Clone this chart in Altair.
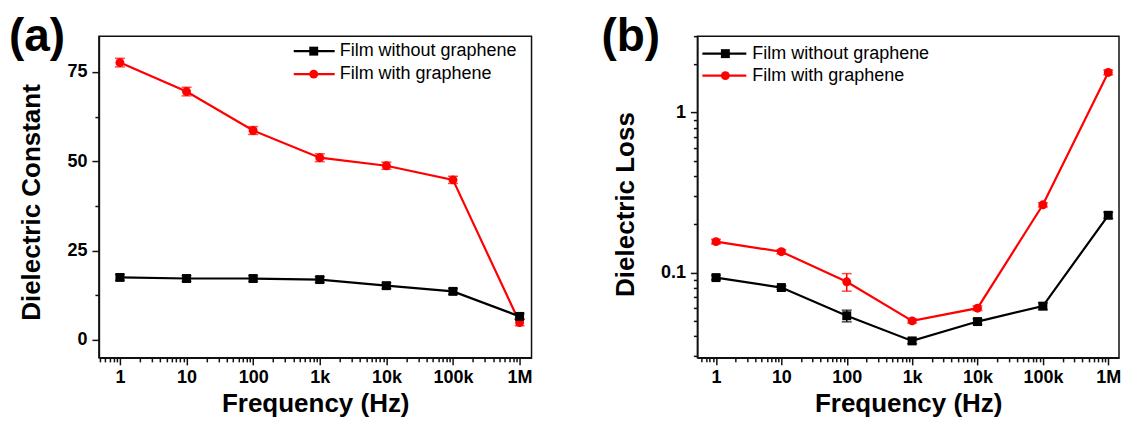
import altair as alt
import pandas as pd

# ---------------- data ----------------
freq = [1, 10, 100, 1000, 10000, 100000, 1000000]
series = ["Film without graphene", "Film with graphene"]

const_without = [17.5, 17.2, 17.2, 16.9, 15.2, 13.6, 6.6]
const_without_err = [0.8, 0.8, 0.8, 0.8, 0.8, 0.8, 0.8]
const_with = [77.6, 69.5, 58.6, 51.0, 48.75, 44.8, 4.9]
const_with_err = [1.2, 1.2, 1.1, 1.1, 1.0, 1.0, 0.9]

loss_without = [0.093, 0.0806, 0.0537, 0.0374, 0.0494, 0.0617, 0.228]
loss_without_err = [0.003, 0.002, 0.0045, 0.0015, 0.002, 0.003, 0.01]
loss_with = [0.156, 0.135, 0.0875, 0.0499, 0.0599, 0.265, 1.78]
loss_with_err = [0.005, 0.004, 0.011, 0.0015, 0.002, 0.008, 0.06]

x_ticks = [m * 10 ** k for k in range(-1, 7) for m in range(1, 10)]
y_ticks_a = [0, 12.5, 25, 37.5, 50, 62.5, 75]
y_ticks_b = [m * 10 ** k for k in range(-2, 1) for m in range(1, 10)]

FONT = "Liberation Sans"
H = 322
COLORS = ["#000000", "#ff0000"]
SHAPES = ["square", "circle"]


def make_df(v_wo, e_wo, v_w, e_w):
    rows = []
    # red drawn first, black on top
    for name, vals, errs in [(series[1], v_w, e_w), (series[0], v_wo, e_wo)]:
        for f, v, e in zip(freq, vals, errs):
            rows.append({"freq": f, "val": v, "lo": v - e, "hi": v + e, "series": name})
    return pd.DataFrame(rows)


LOGTEST = "abs(log(datum.value)/LN10 - round(log(datum.value)/LN10)) > 0.001"


def panel(df, width, xdomain, yscale, yaxis, label, label_dx, leg):
    x_vals = [v for v in x_ticks if xdomain[0] <= v <= xdomain[1]]
    x_axis = alt.Axis(
        values=x_vals, format="~s", labelExpr=f"({LOGTEST}) ? '' : datum.label",
        tickSize={"condition": {"test": LOGTEST, "value": 4}, "value": 7},
        labelPadding=4, labelOverlap=False, labelFlush=False,
        titleX=width / 2, titleY=54, titleBaseline="alphabetic", titleAnchor="middle",
    )
    x = alt.X("freq:Q", scale=alt.Scale(type="log", domain=xdomain, nice=False), axis=x_axis,
              title="Frequency (Hz)")
    y = alt.Y("val:Q", scale=yscale, axis=yaxis)
    color = alt.Color("series:N", scale=alt.Scale(domain=series, range=COLORS), legend=None)
    shape = alt.Shape("series:N", scale=alt.Scale(domain=series, range=SHAPES), legend=None)

    base = alt.Chart(df)
    lines = base.mark_line(strokeWidth=2.2).encode(x=x, y=y, color=color)
    err = base.mark_rule(strokeWidth=1.5).encode(x="freq:Q", y="lo:Q", y2="hi:Q", color=color)
    cap_lo = base.mark_tick(orient="horizontal", size=10, thickness=1.5).encode(
        x="freq:Q", y="lo:Q", color=color)
    cap_hi = base.mark_tick(orient="horizontal", size=10, thickness=1.5).encode(
        x="freq:Q", y="hi:Q", color=color)
    pts = base.mark_point(filled=True, size=80, opacity=1).encode(
        x="freq:Q", y="val:Q", color=color, shape=shape)

    layers = [lines, err, cap_lo, cap_hi, pts]

    # legend
    (lx0, lx1, lxm, ltx, rows) = leg
    for i, name in enumerate(series):
        ldf = pd.DataFrame({"s": [name]})
        yy = rows[i]
        layers.append(alt.Chart(ldf).mark_rule(color=COLORS[i], strokeWidth=2.2).encode(
            x=alt.value(lx0), x2=alt.value(lx1), y=alt.value(yy)))
        layers.append(alt.Chart(ldf).mark_point(shape=SHAPES[i], filled=True, size=80,
                                                 opacity=1, color=COLORS[i]).encode(
            x=alt.value(lxm), y=alt.value(yy)))
        layers.append(alt.Chart(ldf).mark_text(align="left", baseline="middle", font=FONT,
                                                fontSize=18, color="black").encode(
            x=alt.value(ltx), y=alt.value(yy), text="s:N"))

    ldf = pd.DataFrame({"t": [label]})
    layers.append(alt.Chart(ldf).mark_text(align="left", baseline="alphabetic", font=FONT,
                                            fontSize=46, fontWeight="bold", color="black").encode(
        x=alt.value(label_dx), y=alt.value(15), text="t:N"))

    return alt.layer(*layers).properties(width=width, height=H)


y_axis_a = alt.Axis(
    values=y_ticks_a, labelExpr="datum.value % 25 != 0 ? '' : datum.label",
    tickSize={"condition": {"test": "datum.value % 25 != 0", "value": 4}, "value": 7},
    labelPadding=5, title="Dielectric Constant", titleAngle=270,
    titleX=-59, titleY=166, titleBaseline="alphabetic", titleAlign="center",
)
y_scale_a = alt.Scale(domain=[-5, 85], nice=False, zero=False)

y_axis_b = alt.Axis(
    values=[v for v in y_ticks_b if 0.0293 <= v <= 3.0], format="~g",
    labelExpr=f"({LOGTEST}) ? '' : datum.label",
    tickSize={"condition": {"test": LOGTEST, "value": 4}, "value": 7},
    labelPadding=5, labelOverlap=False, labelFlush=False,
    title="Dielectric Loss", titleAngle=270,
    titleX=-63.5, titleY=168, titleBaseline="alphabetic", titleAlign="center",
)
y_scale_b = alt.Scale(type="log", domain=[0.0293, 3.0], nice=False)

pa = panel(make_df(const_without, const_without_err, const_with, const_with_err),
           433, [0.484, 1.51e6], y_scale_a, y_axis_a, "(a)", -90,
           (195, 236, 215, 241, [15, 38]))
pb = panel(make_df(loss_without, loss_without_err, loss_with, loss_with_err),
           422, [0.519, 1.46e6], y_scale_b, y_axis_b, "(b)", -96,
           (5, 49, 28, 55, [17.5, 39.5]))

chart = alt.hconcat(pa, pb, spacing=166, bounds="flush").properties(
    padding={"left": 0, "top": 5, "right": 0, "bottom": 0}
).configure_view(
    stroke="#111111", strokeWidth=1.5
).configure_axis(
    grid=False, domainColor="#111111", domainWidth=1.5, tickColor="#111111", tickWidth=1.5,
    labelFont=FONT, labelFontSize=18, labelFontWeight="bold", labelColor="black",
    titleFont=FONT, titleFontSize=26, titleFontWeight="bold", titleColor="black",
)

chart.save("out.html", embed_options={"renderer": "svg", "actions": False})
